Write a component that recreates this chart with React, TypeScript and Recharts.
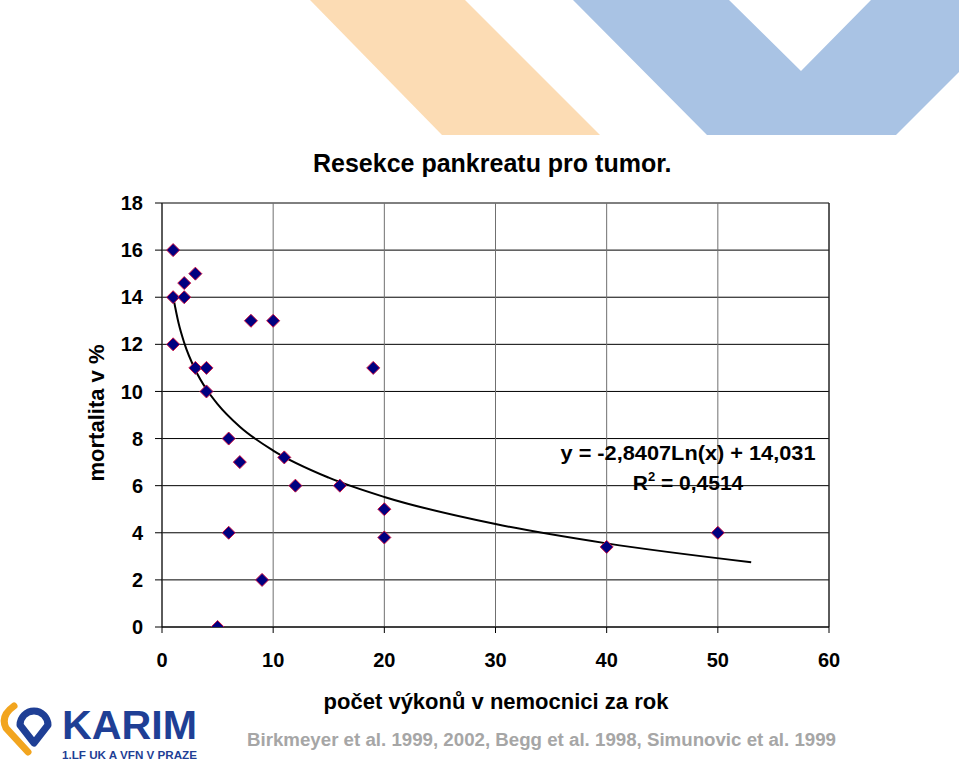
import React from "react"
import {
  ComposedChart,
  Scatter,
  Line,
  XAxis,
  YAxis,
  CartesianGrid,
  ReferenceLine,
} from "recharts"

// hospital volume per year vs. mortality (%)
const volume = [1, 3, 2, 1, 2, 8, 10, 1, 3, 4, 4, 6, 7, 11, 12, 16, 19, 20, 20, 6, 9, 5, 40, 50]
const mortality = [16, 15, 14.6, 14, 14, 13, 13, 12, 11, 11, 10, 8, 7, 7.2, 6, 6, 11, 5, 3.8, 4, 2, 0, 3.4, 4]

// log trend line
const trendX = [1, 1.5, 2, 3, 4, 5, 7, 10, 15, 20, 30, 40, 53]
const trendY = [14.03, 12.88, 12.06, 10.91, 10.09, 9.46, 8.5, 7.49, 6.34, 5.52, 4.37, 3.55, 2.75]

const xTicks = [0, 10, 20, 30, 40, 50, 60]
const yTicks = [0, 2, 4, 6, 8, 10, 12, 14, 16, 18]

const points = volume.map((x, i) => ({ x, y: mortality[i] }))
const trend = trendX.map((x, i) => ({ x, t: trendY[i] }))

const font = "'Liberation Sans', Arial, sans-serif"

const Diamond = (props: any) => {
  const { cx, cy } = props
  const r = 6.5
  return (
    <polygon
      points={`${cx},${cy - r} ${cx + r},${cy} ${cx},${cy + r} ${cx - r},${cy}`}
      fill="#000080"
      stroke="#cc1144"
      strokeWidth={1}
    />
  )
}

function Logo() {
  return (
    <g>
      <path
        d="M 14 706 Q 0 716 6 728 L 28 752"
        fill="none"
        stroke="#f2a51f"
        strokeWidth={7}
        strokeLinecap="round"
      />
      <path
        d="M 34 743 L 20 725 A 14 14 0 1 1 48 725 Z"
        fill="none"
        stroke="#1f3f95"
        strokeWidth={7}
        strokeLinejoin="round"
      />
      <text
        x={62}
        y={739}
        fontSize={40}
        fontWeight="bold"
        fill="#1f3f95"
        fontFamily={font}
        textLength={135}
        lengthAdjust="spacingAndGlyphs"
      >
        KARIM
      </text>
      <text
        x={62}
        y={759}
        fontSize={11}
        fontWeight="bold"
        fill="#1f3f95"
        fontFamily={font}
        textLength={135}
        lengthAdjust="spacingAndGlyphs"
      >
        1.LF UK A VFN V PRAZE
      </text>
    </g>
  )
}

export default function App() {
  return (
    <div style={{ position: "absolute", left: 0, top: 0, width: 959, height: 764, background: "#fff" }}>
      <svg width={959} height={764} style={{ position: "absolute", left: 0, top: 0 }}>
        <polygon points="310,0 465,0 600,135 442,135" fill="#fcdcb4" />
        <polygon points="573,0 729,0 801,71 871,0 959,0 959,72 896,135 707,135" fill="#a9c3e4" />
      </svg>

      <div style={{ position: "absolute", left: 0, top: 0 }}>
        <ComposedChart
          width={959}
          height={764}
          margin={{ top: 203, right: 130, bottom: 107, left: 102 }}
        >
          <CartesianGrid horizontal={true} vertical={false} stroke="#000" strokeOpacity={1} />
          <CartesianGrid horizontal={false} vertical={true} stroke="#707070" />
          <XAxis
            type="number"
            dataKey="x"
            domain={[0, 60]}
            ticks={xTicks}
            height={30}
            tickSize={6}
            tickMargin={20}
            axisLine={{ stroke: "#000" }}
            tickLine={{ stroke: "#000" }}
            tick={{ fill: "#000", fontSize: 20, fontWeight: "bold", fontFamily: font }}
            allowDataOverflow
          />
          <YAxis
            type="number"
            domain={[0, 18]}
            ticks={yTicks}
            width={60}
            tickSize={7}
            tickMargin={12}
            axisLine={{ stroke: "#000" }}
            tickLine={{ stroke: "#000" }}
            tick={{ fill: "#000", fontSize: 20, fontWeight: "bold", fontFamily: font }}
            allowDataOverflow
          />
          <ReferenceLine x={60} stroke="#000" />
          <Line
            data={trend}
            dataKey="t"
            type="monotone"
            stroke="#000"
            strokeWidth={2}
            dot={false}
            activeDot={false}
            isAnimationActive={false}
          />
          <Scatter data={points} dataKey="y" shape={Diamond} isAnimationActive={false} />
        </ComposedChart>
      </div>

      <svg
        width={959}
        height={764}
        style={{ position: "absolute", left: 0, top: 0, pointerEvents: "none" }}
      >
        <text x={313} y={172} fontSize={25} fontWeight="bold" fontFamily={font} fill="#000">
          Resekce pankreatu pro tumor.
        </text>
        <text
          x={0}
          y={0}
          transform="translate(104,413) rotate(-90)"
          textAnchor="middle"
          fontSize={22}
          fontWeight="bold"
          fontFamily={font}
          fill="#000"
        >
          mortalita v %
        </text>
        <text x={496} y={709} textAnchor="middle" fontSize={22} fontWeight="bold" fontFamily={font} fill="#000">
          počet výkonů v nemocnici za rok
        </text>
        <text x={688} y={460} textAnchor="middle" fontSize={21} fontWeight="bold" fontFamily={font} fill="#000" textLength={255} lengthAdjust="spacingAndGlyphs">
          y = -2,8407Ln(x) + 14,031
        </text>
        <text x={688} y={490} textAnchor="middle" fontSize={21} fontWeight="bold" fontFamily={font} fill="#000">
          R<tspan fontSize={13} dy={-9}>2</tspan>
          <tspan dy={9}> = 0,4514</tspan>
        </text>
        <text
          x={247}
          y={746}
          fontSize={18}
          fontWeight="bold"
          fontFamily={font}
          fill="#a6a6a6"
          textLength={589}
          lengthAdjust="spacingAndGlyphs"
        >
          Birkmeyer et al. 1999, 2002, Begg et al. 1998, Simunovic et al. 1999
        </text>
        <Logo />
      </svg>
    </div>
  )
}
